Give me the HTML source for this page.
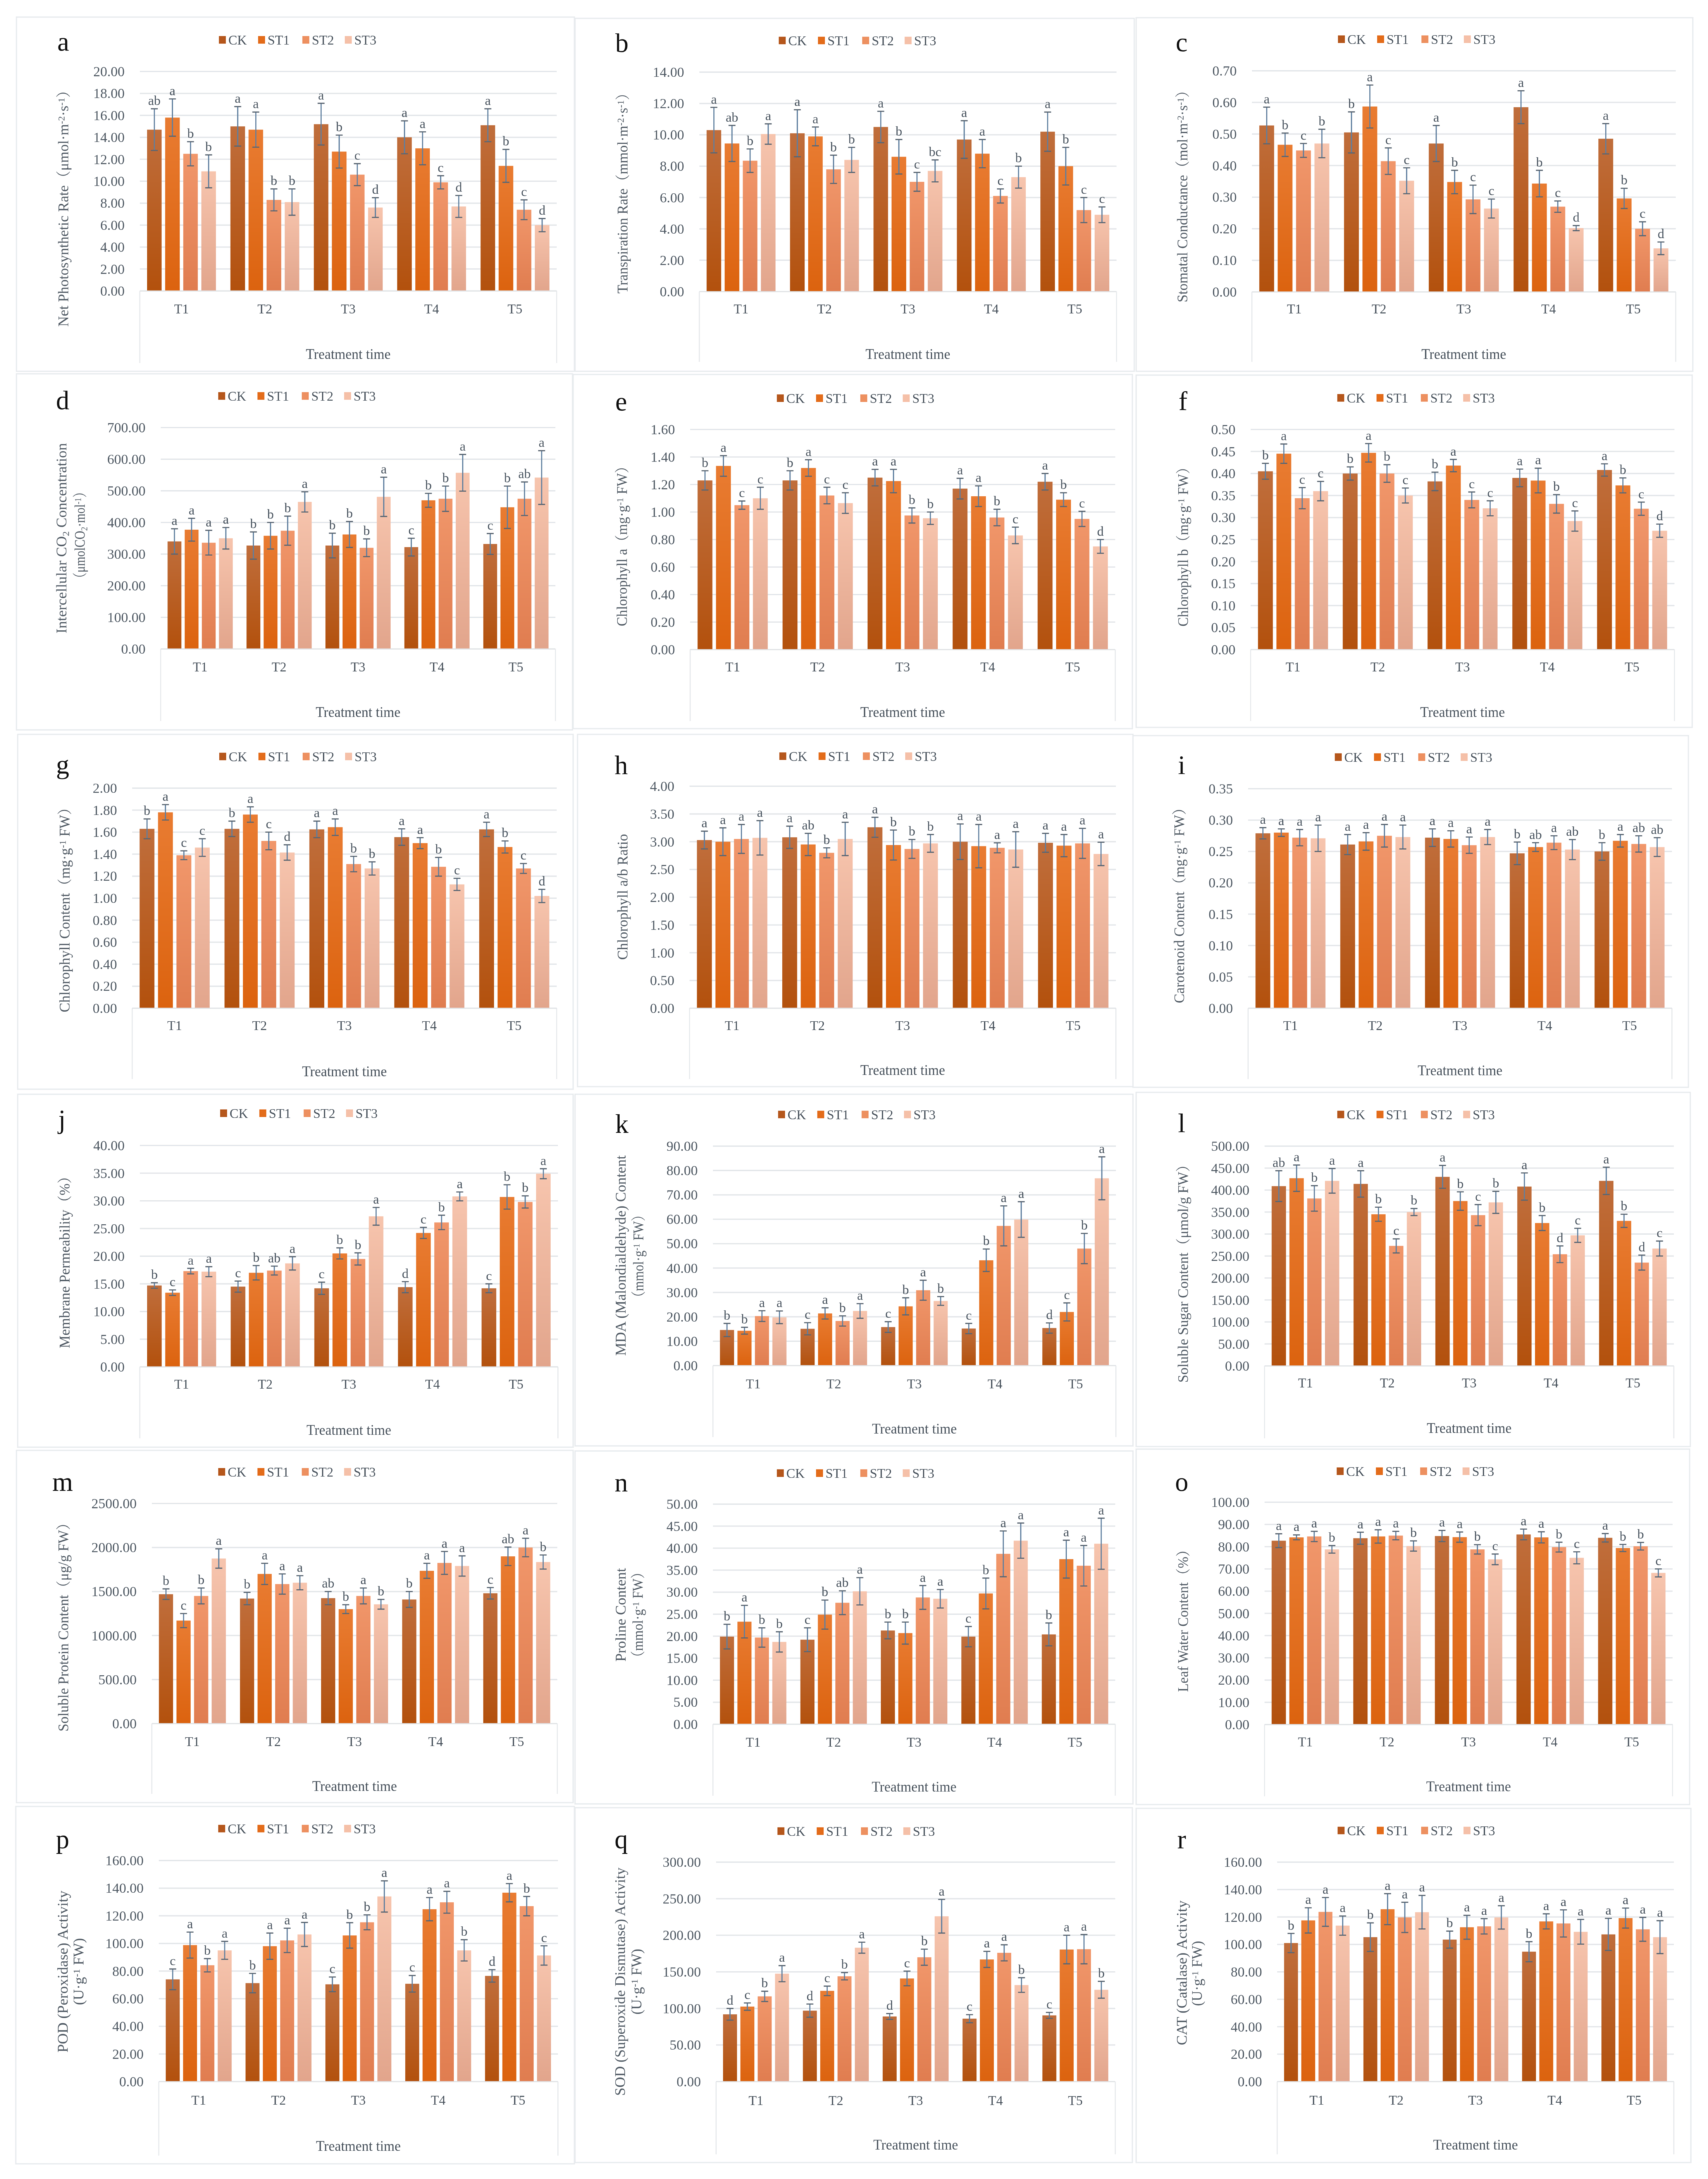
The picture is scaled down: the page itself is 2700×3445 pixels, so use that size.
<!DOCTYPE html>
<html lang="en">
<head>
<meta charset="utf-8">
<title>Physiological indicators under treatments CK, ST1, ST2 and ST3</title>
<style>
html,body{margin:0;padding:0;background:#fff;}
svg{display:block;filter:blur(0.6px);font-family:"Liberation Serif","Noto Serif CJK SC",serif;}
.card{fill:#fff;stroke:#e8ebee;stroke-width:2;}
.pl{font-size:42px;fill:#111;text-anchor:middle;}
.yt{font-size:23px;fill:#525c66;text-anchor:middle;}
</style>
</head>
<body>
<svg id="figure" xmlns="http://www.w3.org/2000/svg" width="2700" height="3445" viewBox="0 0 2700 3445">
<defs>
<linearGradient id="grad-0" x1="0" y1="0" x2="0" y2="1"><stop offset="0" stop-color="#c06e3c"/><stop offset="1" stop-color="#b3510d"/></linearGradient>
<linearGradient id="grad-1" x1="0" y1="0" x2="0" y2="1"><stop offset="0" stop-color="#e97c32"/><stop offset="1" stop-color="#dc630f"/></linearGradient>
<linearGradient id="grad-2" x1="0" y1="0" x2="0" y2="1"><stop offset="0" stop-color="#f1976b"/><stop offset="1" stop-color="#e07d50"/></linearGradient>
<linearGradient id="grad-3" x1="0" y1="0" x2="0" y2="1"><stop offset="0" stop-color="#f7c5ae"/><stop offset="1" stop-color="#e2a58c"/></linearGradient>
</defs>
<rect width="2700" height="3445" fill="#fff"/>

<g id="panel-a">
<rect class="card" x="26" y="27" width="882" height="560"/>
<text class="pl" x="100" y="80">a</text>
<text class="yt" textLength="385" lengthAdjust="spacingAndGlyphs" transform="translate(108,324) rotate(-90)">Net Photosynthetic Rate（μmol·m<tspan dy="-6" font-size="15">-2</tspan><tspan dy="6">·s</tspan><tspan dy="-6" font-size="15">-1</tspan><tspan dy="6">）</tspan></text>
</g>

<g id="panel-b">
<rect class="card" x="909" y="29" width="884" height="558"/>
<text class="pl" x="983" y="82">b</text>
<text class="yt" textLength="328" lengthAdjust="spacingAndGlyphs" transform="translate(992,300) rotate(-90)">Transpiration Rate（mmol·m<tspan dy="-6" font-size="15">-2</tspan><tspan dy="6">·s</tspan><tspan dy="-6" font-size="15">-1</tspan><tspan dy="6">）</tspan></text>
</g>

<g id="panel-c">
<rect class="card" x="1796" y="28" width="880" height="559"/>
<text class="pl" x="1868" y="81">c</text>
<text class="yt" textLength="346" lengthAdjust="spacingAndGlyphs" transform="translate(1877,305) rotate(-90)">Stomatal Conductance（mol·m<tspan dy="-6" font-size="15">-2</tspan><tspan dy="6">·s</tspan><tspan dy="-6" font-size="15">-1</tspan><tspan dy="6">）</tspan></text>
</g>

<g id="panel-d">
<rect class="card" x="26" y="591" width="879" height="563"/>
<text class="pl" x="99" y="647">d</text>
<text class="yt" textLength="301" lengthAdjust="spacingAndGlyphs" transform="translate(105,851) rotate(-90)">Intercellular CO<tspan dy="4" font-size="15">2</tspan><tspan dy="-4"> Concentration</tspan></text>
<text class="yt" textLength="156" lengthAdjust="spacingAndGlyphs" transform="translate(134,846) rotate(-90)">（μmolCO<tspan dy="4" font-size="15">2</tspan><tspan dy="-4">·mol</tspan><tspan dy="-6" font-size="15">-1</tspan><tspan dy="6">）</tspan></text>
</g>

<g id="panel-e">
<rect class="card" x="906" y="592" width="884" height="560"/>
<text class="pl" x="982" y="649">e</text>
<text class="yt" textLength="264" lengthAdjust="spacingAndGlyphs" transform="translate(991,858) rotate(-90)">Chlorophyll a（mg·g<tspan dy="-6" font-size="15">-1</tspan><tspan dy="6"> FW）</tspan></text>
</g>

<g id="panel-f">
<rect class="card" x="1796" y="593" width="879" height="557"/>
<text class="pl" x="1870" y="648">f</text>
<text class="yt" textLength="263" lengthAdjust="spacingAndGlyphs" transform="translate(1878,859) rotate(-90)">Chlorophyll b（mg·g<tspan dy="-6" font-size="15">-1</tspan><tspan dy="6"> FW）</tspan></text>
</g>

<g id="panel-g">
<rect class="card" x="28" y="1161" width="878" height="561"/>
<text class="pl" x="99" y="1223">g</text>
<text class="yt" textLength="335" lengthAdjust="spacingAndGlyphs" transform="translate(110,1433) rotate(-90)">Chlorophyll Content（mg·g<tspan dy="-6" font-size="15">-1</tspan><tspan dy="6"> FW）</tspan></text>
</g>

<g id="panel-h">
<rect class="card" x="913" y="1161" width="878" height="557"/>
<text class="pl" x="982" y="1224">h</text>
<text class="yt" textLength="199" lengthAdjust="spacingAndGlyphs" transform="translate(992,1418) rotate(-90)">Chlorophyll a/b Ratio</text>
</g>

<g id="panel-i">
<rect class="card" x="1791" y="1163" width="878" height="556"/>
<text class="pl" x="1868" y="1224">i</text>
<text class="yt" textLength="320" lengthAdjust="spacingAndGlyphs" transform="translate(1872,1426) rotate(-90)">Carotenoid Content（mg·g<tspan dy="-6" font-size="15">-1</tspan><tspan dy="6"> FW）</tspan></text>
</g>

<g id="panel-j">
<rect class="card" x="28" y="1730" width="878" height="558"/>
<text class="pl" x="98" y="1784">j</text>
<text class="yt" textLength="283" lengthAdjust="spacingAndGlyphs" transform="translate(110,1990) rotate(-90)">Membrane Permeability（%）</text>
</g>

<g id="panel-k">
<rect class="card" x="909" y="1730" width="882" height="556"/>
<text class="pl" x="983" y="1791">k</text>
<text class="yt" textLength="317" lengthAdjust="spacingAndGlyphs" transform="translate(989,1985) rotate(-90)">MDA (Malondialdehyde) Content</text>
<text class="yt" textLength="151" lengthAdjust="spacingAndGlyphs" transform="translate(1017,1986) rotate(-90)">（mmol·g<tspan dy="-6" font-size="15">-1</tspan><tspan dy="6"> FW）</tspan></text>
</g>

<g id="panel-l">
<rect class="card" x="1796" y="1727" width="876" height="560"/>
<text class="pl" x="1868" y="1790">l</text>
<text class="yt" textLength="356" lengthAdjust="spacingAndGlyphs" transform="translate(1878,2008) rotate(-90)">Soluble Sugar Content（μmol/g FW）</text>
</g>

<g id="panel-m">
<rect class="card" x="26" y="2293" width="880" height="557"/>
<text class="pl" x="99" y="2357">m</text>
<text class="yt" textLength="341" lengthAdjust="spacingAndGlyphs" transform="translate(108,2567) rotate(-90)">Soluble Protein Content（μg/g FW）</text>
</g>

<g id="panel-n">
<rect class="card" x="909" y="2294" width="882" height="558"/>
<text class="pl" x="982" y="2358">n</text>
<text class="yt" textLength="148" lengthAdjust="spacingAndGlyphs" transform="translate(989,2553) rotate(-90)">Proline Content</text>
<text class="yt" textLength="156" lengthAdjust="spacingAndGlyphs" transform="translate(1016,2553) rotate(-90)">（mmol·g<tspan dy="-6" font-size="15">-1</tspan><tspan dy="6"> FW）</tspan></text>
</g>

<g id="panel-o">
<rect class="card" x="1796" y="2291" width="875" height="562"/>
<text class="pl" x="1868" y="2357">o</text>
<text class="yt" textLength="236" lengthAdjust="spacingAndGlyphs" transform="translate(1878,2557) rotate(-90)">Leaf Water Content（%）</text>
</g>

<g id="panel-p">
<rect class="card" x="25" y="2856" width="883" height="565"/>
<text class="pl" x="99" y="2922">p</text>
<text class="yt" textLength="256" lengthAdjust="spacingAndGlyphs" transform="translate(107,3117) rotate(-90)">POD (Peroxidase) Activity</text>
<text class="yt" textLength="106" lengthAdjust="spacingAndGlyphs" transform="translate(132,3117) rotate(-90)">(U·g<tspan dy="-6" font-size="15">-1</tspan><tspan dy="6"> FW)</tspan></text>
</g>

<g id="panel-q">
<rect class="card" x="909" y="2858" width="881" height="561"/>
<text class="pl" x="982" y="2922">q</text>
<text class="yt" textLength="361" lengthAdjust="spacingAndGlyphs" transform="translate(988,3133) rotate(-90)">SOD (Superoxide Dismutase) Activity</text>
<text class="yt" textLength="104" lengthAdjust="spacingAndGlyphs" transform="translate(1014,3133) rotate(-90)">(U·g<tspan dy="-6" font-size="15">-1</tspan><tspan dy="6"> FW)</tspan></text>
</g>

<g id="panel-r">
<rect class="card" x="1796" y="2859" width="877" height="560"/>
<text class="pl" x="1868" y="2922">r</text>
<text class="yt" textLength="229" lengthAdjust="spacingAndGlyphs" transform="translate(1876,3119) rotate(-90)">CAT (Catalase) Activity</text>
<text class="yt" textLength="103" lengthAdjust="spacingAndGlyphs" transform="translate(1900,3120) rotate(-90)">(U·g<tspan dy="-6" font-size="15">-1</tspan><tspan dy="6"> FW)</tspan></text>
</g>
</svg>

<script>
const categories = ['T1','T2','T3','T4','T5'];
const seriesNames = ['CK','ST1','ST2','ST3'];
const xAxisTitle = 'Treatment time';

const aTicks = [0,2,4,6,8,10,12,14,16,18,20];
const aValues = [[14.7,15.0,15.2,14.0,15.1],[15.8,14.7,12.7,13.0,11.4],[12.5,8.3,10.6,9.9,7.4],[10.9,8.1,7.6,7.7,6.0]];
const aErrors = [[1.9,1.8,1.9,1.5,1.5],[1.7,1.6,1.5,1.5,1.5],[1.1,1.0,1.0,0.6,0.9],[1.5,1.2,0.9,1.0,0.6]];
const aLetters = [['ab','a','a','a','a'],['a','a','b','a','b'],['b','b','c','c','c'],['b','b','d','d','d']];

const bTicks = [0,2,4,6,8,10,12,14];
const bValues = [[10.3,10.1,10.5,9.7,10.2],[9.45,9.9,8.6,8.8,8.0],[8.35,7.8,7.0,6.1,5.2],[10.05,8.4,7.7,7.3,4.9]];
const bErrors = [[1.45,1.5,1.0,1.2,1.25],[1.15,0.6,1.1,0.9,1.2],[0.75,0.9,0.6,0.45,0.8],[0.65,0.8,0.7,0.7,0.5]];
const bLetters = [['a','a','a','a','a'],['ab','a','b','a','b'],['b','b','c','c','c'],['a','b','bc','b','c']];

const cTicks = [0,0.1,0.2,0.3,0.4,0.5,0.6,0.7];
const cValues = [[0.527,0.505,0.47,0.585,0.485],[0.466,0.587,0.348,0.343,0.296],[0.448,0.414,0.293,0.27,0.2],[0.47,0.352,0.264,0.202,0.138]];
const cErrors = [[0.058,0.065,0.057,0.052,0.048],[0.037,0.068,0.037,0.042,0.032],[0.022,0.042,0.045,0.018,0.022],[0.045,0.041,0.03,0.008,0.02]];
const cLetters = [['a','b','a','a','a'],['b','a','b','b','b'],['c','c','c','c','c'],['b','c','c','d','d']];

const dTicks = [0,100,200,300,400,500,600,700];
const dValues = [[340,327,327,322,332],[377,358,362,470,448],[336,374,320,475,475],[350,465,481,557,542]];
const dErrors = [[40,43,39,28,33],[36,42,41,22,67],[39,46,28,40,53],[34,32,62,58,85]];
const dLetters = [['a','b','b','c','c'],['a','b','b','b','b'],['a','b','b','b','ab'],['a','a','a','a','a']];

const eTicks = [0,0.2,0.4,0.6,0.8,1.0,1.2,1.4,1.6];
const eValues = [[1.23,1.23,1.25,1.17,1.22],[1.335,1.32,1.225,1.115,1.09],[1.05,1.12,0.975,0.96,0.95],[1.1,1.065,0.955,0.83,0.75]];
const eErrors = [[0.07,0.07,0.06,0.075,0.06],[0.075,0.06,0.085,0.075,0.05],[0.03,0.06,0.055,0.06,0.055],[0.08,0.075,0.045,0.06,0.05]];
const eLetters = [['b','b','a','a','a'],['a','a','a','a','b'],['c','c','b','b','c'],['c','c','b','c','d']];

const fTicks = [0,0.05,0.1,0.15,0.2,0.25,0.3,0.35,0.4,0.45,0.5];
const fValues = [[0.405,0.40,0.382,0.39,0.408],[0.445,0.447,0.418,0.384,0.373],[0.344,0.40,0.34,0.331,0.32],[0.36,0.35,0.321,0.292,0.27]];
const fErrors = [[0.018,0.015,0.021,0.02,0.014],[0.022,0.021,0.014,0.028,0.017],[0.024,0.02,0.018,0.021,0.015],[0.022,0.017,0.017,0.023,0.015]];
const fLetters = [['b','b','b','a','a'],['a','a','a','a','b'],['c','b','c','b','c'],['c','c','c','c','d']];

const gTicks = [0,0.2,0.4,0.6,0.8,1.0,1.2,1.4,1.6,1.8,2.0];
const gValues = [[1.63,1.63,1.625,1.555,1.625],[1.78,1.76,1.645,1.5,1.465],[1.39,1.52,1.31,1.285,1.27],[1.46,1.415,1.27,1.125,1.02]];
const gErrors = [[0.09,0.07,0.075,0.075,0.065],[0.07,0.07,0.075,0.05,0.055],[0.04,0.08,0.07,0.085,0.045],[0.08,0.07,0.06,0.055,0.06]];
const gLetters = [['b','b','a','a','a'],['a','a','a','a','b'],['c','c','b','b','c'],['c','d','b','c','d']];

const hTicks = [0,0.5,1,1.5,2,2.5,3,3.5,4];
const hValues = [[3.03,3.08,3.26,3.0,2.98],[3.0,2.95,2.94,2.92,2.93],[3.05,2.8,2.87,2.89,2.97],[3.07,3.05,2.97,2.86,2.78]];
const hErrors = [[0.16,0.2,0.18,0.32,0.17],[0.25,0.2,0.27,0.39,0.2],[0.26,0.09,0.17,0.09,0.27],[0.31,0.3,0.16,0.32,0.21]];
const hLetters = [['a','a','a','a','a'],['a','ab','b','a','a'],['a','b','b','a','a'],['a','a','b','a','a']];

const iTicks = [0,0.05,0.1,0.15,0.2,0.25,0.3,0.35];
const iValues = [[0.279,0.261,0.272,0.247,0.25],[0.28,0.266,0.27,0.257,0.267],[0.272,0.275,0.26,0.264,0.262],[0.271,0.273,0.273,0.253,0.257]];
const iErrors = [[0.009,0.016,0.014,0.018,0.014],[0.006,0.014,0.013,0.007,0.01],[0.013,0.018,0.013,0.011,0.013],[0.021,0.019,0.012,0.016,0.015]];
const iLetters = [['a','a','a','b','b'],['a','a','a','ab','a'],['a','a','a','a','ab'],['a','a','a','ab','ab']];

const jTicks = [0,5,10,15,20,25,30,35,40];
const jValues = [[14.7,14.5,14.2,14.4,14.2],[13.4,17.0,20.5,24.2,30.7],[17.3,17.4,19.5,26.1,29.8],[17.2,18.7,27.2,30.8,34.9]];
const jErrors = [[0.5,1,1.1,1,0.8],[0.5,1.3,1,1,2.2],[0.5,0.8,1.1,1.3,1.1],[0.9,1.2,1.6,0.8,0.9]];
const jLetters = [['b','c','c','d','c'],['c','b','b','c','b'],['a','ab','b','b','b'],['a','a','a','a','a']];

const kTicks = [0,10,20,30,40,50,60,70,80,90];
const kValues = [[14.6,15.1,15.8,15.2,15.4],[14.3,21.4,24.3,43.2,22],[20.3,18.3,30.9,57.3,48],[19.8,22.4,26.5,59.9,76.8]];
const kErrors = [[2.7,2.5,2.2,2.1,2.1],[1.4,2.3,3.5,4.6,3.7],[2.2,2.1,4.1,8.2,6.2],[2.6,3,1.8,7.3,8.8]];
const kLetters = [['b','c','c','c','d'],['b','a','b','b','c'],['a','b','a','a','b'],['a','a','b','a','a']];

const lTicks = [0,50,100,150,200,250,300,350,400,450,500];
const lValues = [[409,414,430,408,421],[427,345,375,325,330],[381,273,343,254,235],[421,350,372,297,267]];
const lErrors = [[35,30,26,31,31],[30,16,21,17,15],[29,16,24,19,17],[28,8,25,16,17]];
const lLetters = [['ab','a','a','a','a'],['a','b','b','b','b'],['b','c','c','d','d'],['a','b','b','c','c']];

const mTicks = [0,500,1000,1500,2000,2500];
const mValues = [[1470,1420,1425,1410,1480],[1170,1700,1300,1735,1900],[1450,1585,1450,1825,2000],[1875,1600,1355,1790,1835]];
const mErrors = [[60,70,75,90,65],[80,120,50,85,105],[90,115,90,130,105],[110,80,55,115,80]];
const mLetters = [['b','b','ab','b','c'],['c','a','b','a','ab'],['b','a','a','a','a'],['a','a','b','a','b']];

const nTicks = [0,5,10,15,20,25,30,35,40,45,50];
const nValues = [[19.9,19.2,21.3,19.9,20.4],[23.3,24.9,20.7,29.7,37.5],[19.7,27.6,28.8,38.7,36],[18.7,30.2,28.5,41.7,41]];
const nErrors = [[2.8,2.7,1.9,2.3,2.6],[3.7,3.3,2.5,3.5,4.3],[2.2,2.7,2.7,5.2,4.6],[2.3,3.1,2.1,4,5.8]];
const nLetters = [['b','c','b','c','b'],['a','b','b','b','a'],['b','ab','a','a','a'],['b','a','a','a','a']];

const oTicks = [0,10,20,30,40,50,60,70,80,90,100];
const oValues = [[82.7,83.8,84.8,85.5,84],[84.2,84.6,84.3,84.2,79.4],[84.6,85,78.8,79.8,80.2],[78.8,80.3,74.3,75,68.2]];
const oErrors = [[3.1,2.7,2.5,2.4,1.9],[1.1,3,2.3,2.5,1.6],[2.3,1.9,2.1,2.2,1.7],[1.7,2.3,2.4,2.7,1.8]];
const oLetters = [['a','a','a','a','a'],['a','a','a','a','b'],['a','a','b','b','b'],['b','b','c','c','c']];

const pTicks = [0,20,40,60,80,100,120,140,160];
const pValues = [[74,71.3,70.4,70.8,76.5],[98.8,98,105.8,124.8,136.7],[84.2,102.2,115.3,129.8,127],[95,106.5,134,95,91.3]];
const pErrors = [[7.5,7,5.3,6,4.5],[9.4,9.5,9.2,8.4,6.6],[4.8,8.8,5.4,7.9,7],[6.5,8.7,11.3,7.7,7]];
const pLetters = [['c','b','c','c','d'],['a','a','b','a','a'],['b','a','b','a','b'],['a','a','a','b','c']];

const qTicks = [0,50,100,150,200,250,300];
const qValues = [[92,97,89,86,90.5],[102.5,124,141,167,180.5],[116.5,144,170,176,181],[147.5,183,226,132,125.5]];
const qErrors = [[8,9,4,5.5,4],[5,6.5,10,11,19.5],[7,5,11,11,20],[11,7.5,23,10,11.5]];
const qLetters = [['d','d','d','c','c'],['c','c','c','a','a'],['b','b','b','a','a'],['a','a','a','b','b']];

const rTicks = [0,20,40,60,80,100,120,140,160];
const rValues = [[101,105.3,103.5,94.7,107.3],[117.5,125.7,112.5,116.8,119.2],[123.7,119.7,113.2,115.3,111],[113.7,123.5,119.7,109.2,105.3]];
const rErrors = [[7,10.4,6.2,7.3,11.7],[9.2,11.3,8.7,5.5,7.3],[10.5,11,5.6,9.9,8.7],[7,12.2,8.5,9,12]];
const rLetters = [['b','b','b','b','a'],['a','a','a','a','a'],['a','a','a','a','a'],['a','a','a','a','a']];

const panelLayouts = [
  {key:'a',ticks:aTicks,values:aValues,errors:aErrors,letters:aLetters,left:221,right:880,base:460,top:113,legendX:346,legendY:63,catY:488,titleY:560,frameBottom:574},
  {key:'b',ticks:bTicks,values:bValues,errors:bErrors,letters:bLetters,left:1105.5,right:1765,base:461,top:114,legendX:1231,legendY:64,catY:488,titleY:560,frameBottom:572},
  {key:'c',ticks:cTicks,values:cValues,errors:cErrors,letters:cLetters,left:1979,right:2649,base:461.5,top:112,legendX:2115,legendY:62,catY:488,titleY:560,frameBottom:572},
  {key:'d',ticks:dTicks,values:dValues,errors:dErrors,letters:dLetters,left:254,right:878,base:1026,top:676,legendX:345,legendY:626,catY:1054,titleY:1126,frameBottom:1140},
  {key:'e',ticks:eTicks,values:eValues,errors:eErrors,letters:eLetters,left:1091,right:1763,base:1027,top:679,legendX:1228,legendY:629.5,catY:1054,titleY:1126,frameBottom:1140},
  {key:'f',ticks:fTicks,values:fValues,errors:fErrors,letters:fLetters,left:1977,right:2647,base:1027,top:679,legendX:2114,legendY:629,catY:1054,titleY:1126,frameBottom:1140},
  {key:'g',ticks:gTicks,values:gValues,errors:gErrors,letters:gLetters,left:209,right:880,base:1594,top:1246,legendX:346.5,legendY:1196,catY:1621,titleY:1694,frameBottom:1706},
  {key:'h',ticks:hTicks,values:hValues,errors:hErrors,letters:hLetters,left:1090,right:1764,base:1594,top:1243,legendX:1232,legendY:1195.5,catY:1621,titleY:1692,frameBottom:1706},
  {key:'i',ticks:iTicks,values:iValues,errors:iErrors,letters:iLetters,left:1973,right:2643,base:1594,top:1247,legendX:2110,legendY:1197,catY:1621,titleY:1692.5,frameBottom:1706},
  {key:'j',ticks:jTicks,values:jValues,errors:jErrors,letters:jLetters,left:221,right:882,base:2161,top:1811,legendX:348,legendY:1760,catY:2188,titleY:2261,frameBottom:2274},
  {key:'k',ticks:kTicks,values:kValues,errors:kErrors,letters:kLetters,left:1127,right:1764,base:2159,top:1812,legendX:1230,legendY:1762,catY:2187.5,titleY:2259,frameBottom:2272},
  {key:'l',ticks:lTicks,values:lValues,errors:lErrors,letters:lLetters,left:1999,right:2646,base:2159.5,top:1812,legendX:2114,legendY:1762,catY:2186,titleY:2258,frameBottom:2274},
  {key:'m',ticks:mTicks,values:mValues,errors:mErrors,letters:mLetters,left:240,right:881,base:2725,top:2377,legendX:345,legendY:2327,catY:2753,titleY:2824,frameBottom:2836},
  {key:'n',ticks:nTicks,values:nValues,errors:nErrors,letters:nLetters,left:1127,right:1763,base:2726,top:2378,legendX:1228,legendY:2329,catY:2754,titleY:2825,frameBottom:2839},
  {key:'o',ticks:oTicks,values:oValues,errors:oErrors,letters:oLetters,left:1999,right:2644,base:2726.5,top:2375,legendX:2113,legendY:2326,catY:2753.5,titleY:2824.6,frameBottom:2840},
  {key:'p',ticks:pTicks,values:pValues,errors:pErrors,letters:pLetters,left:251,right:882,base:3291,top:2941.5,legendX:345,legendY:2891,catY:3320,titleY:3393,frameBottom:3408},
  {key:'q',ticks:qTicks,values:qValues,errors:qErrors,letters:qLetters,left:1132,right:1763,base:3291,top:2944,legendX:1229,legendY:2895,catY:3320.6,titleY:3391,frameBottom:3406},
  {key:'r',ticks:rTicks,values:rValues,errors:rErrors,letters:rLetters,left:2019,right:2646,base:3291,top:2944,legendX:2114.5,legendY:2894,catY:3320,titleY:3391,frameBottom:3406}
];

const SVG_NS = 'http://www.w3.org/2000/svg';
const legendMarkerOffsets = [0, 62, 132, 199];
const legendColors = ['#b5571c', '#e36c1a', '#ed9060', '#f5c0a8'];

function make(parent, tag, attrs, text) {
  const node = document.createElementNS(SVG_NS, tag);
  for (const k in attrs) node.setAttribute(k, attrs[k]);
  if (text !== undefined) node.textContent = text;
  parent.appendChild(node);
  return node;
}

function xScale(p) {
  const groupWidth = (p.right - p.left) / categories.length;
  const barWidth = groupWidth * 0.175;
  const pitch = groupWidth * 0.217;
  const inset = (groupWidth - (3 * pitch + barWidth)) / 2;
  return {
    groupWidth: groupWidth,
    barWidth: barWidth,
    groupCenter: function (c) { return p.left + groupWidth * (c + 0.5); },
    barLeft: function (c, s) { return p.left + groupWidth * c + inset + pitch * s; }
  };
}

function yScale(p) {
  const max = p.ticks[p.ticks.length - 1];
  return function (v) { return p.base - (v / max) * (p.base - p.top); };
}

function drawPanel(p) {
  const root = document.getElementById('panel-' + p.key);
  const x = xScale(p);
  const y = yScale(p);
  let el;

  // horizontal gridlines and y tick labels
  p.ticks.forEach(function (t) {
    const gy = y(t);
    el = make(root, 'line', {x1: p.left, x2: p.right, y1: gy, y2: gy, stroke: '#e3e6e9', 'stroke-width': 2});
    
    
    el = make(root, 'text', {x: p.left - 24, y: gy + 7.5, 'text-anchor': 'end', 'font-size': 22, fill: '#515b65'}, t.toFixed(2));
    
    
  });

  // category axis frame
  [p.left, p.right].forEach(function (fx) {
    el = make(root, 'line', {x1: fx, x2: fx, y1: p.base, y2: p.frameBottom, stroke: '#e4e7ea', 'stroke-width': 1.5});
    
    
  });

  // bars
  p.values.forEach(function (series, s) {
    series.forEach(function (v, c) {
      const top = y(v);
      el = make(root, 'rect', {x: x.barLeft(c, s), y: top, width: x.barWidth, height: p.base - top, fill: 'url(#grad-' + s + ')'});
      
      
    });
  });

  // error bars and significance letters
  p.values.forEach(function (series, s) {
    series.forEach(function (v, c) {
      const e = p.errors[s][c];
      const cx = x.barLeft(c, s) + x.barWidth / 2;
      const hi = y(v + e);
      const lo = y(v - e);
      el = make(root, 'line', {x1: cx, x2: cx, y1: hi, y2: lo, stroke: '#5f7f9f', 'stroke-width': 1.8});
      
      
      [hi, lo].forEach(function (capY) {
        el = make(root, 'line', {x1: cx - 5.5, x2: cx + 5.5, y1: capY, y2: capY, stroke: '#5a6672', 'stroke-width': 1.8});
        
        
      });
      el = make(root, 'text', {x: cx, y: hi - 6, 'text-anchor': 'middle', 'font-size': 21, fill: '#4c5762'}, p.letters[s][c]);
      
      
    });
  });

  // x axis line, category labels, axis title
  el = make(root, 'line', {x1: p.left, x2: p.right, y1: p.base, y2: p.base, stroke: '#e1e4e7', 'stroke-width': 1.5});
  
  
  categories.forEach(function (name, c) {
    el = make(root, 'text', {x: x.groupCenter(c), y: p.catY + 7.5, 'text-anchor': 'middle', 'font-size': 21, fill: '#4a545e'}, name);
    
    
  });
  el = make(root, 'text', {x: (p.left + p.right) / 2, y: p.titleY + 7.5, 'text-anchor': 'middle', 'font-size': 23, fill: '#4a545e', textLength: 134, lengthAdjust: 'spacingAndGlyphs'}, xAxisTitle);
  
  

  // legend
  seriesNames.forEach(function (name, s) {
    const mx = p.legendX + legendMarkerOffsets[s];
    el = make(root, 'rect', {x: mx, y: p.legendY - 6, width: 11, height: 12, fill: legendColors[s]});
    
    
    el = make(root, 'text', {x: mx + 15, y: p.legendY + 7.5, 'font-size': 21, fill: '#4a545e'}, name);
    
    
  });
}

panelLayouts.forEach(drawPanel);
</script>
</body>
</html>
